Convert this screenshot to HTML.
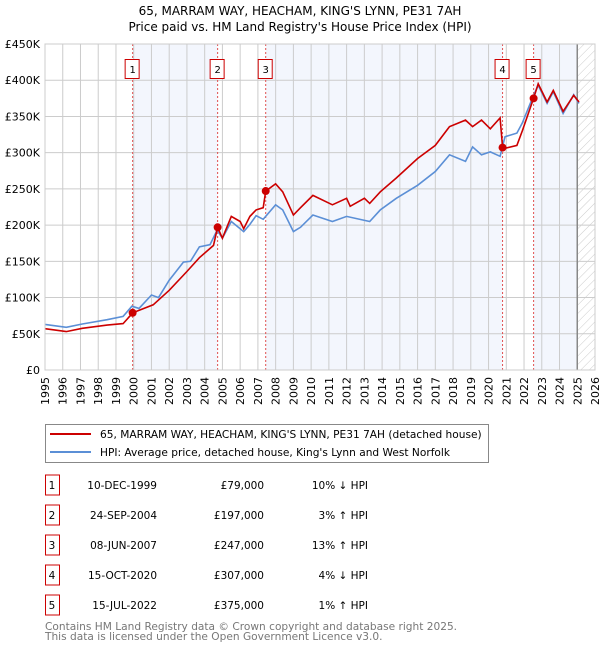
<!DOCTYPE html>
<html><head><meta charset="utf-8"><style>
body{margin:0;background:#fff;font-family:"DejaVu Sans","Liberation Sans",sans-serif;}
svg text{font-family:"DejaVu Sans","Liberation Sans",sans-serif;}
</style></head><body>
<svg id="chart" width="600" height="650" viewBox="0 0 600 650" xmlns="http://www.w3.org/2000/svg">
<defs><pattern id="hatch" patternUnits="userSpaceOnUse" width="6" height="6" patternTransform="rotate(45)"><line x1="0" y1="0" x2="0" y2="6" stroke="#ccc" stroke-width="1"/></pattern></defs>
<text x="300" y="15" text-anchor="middle" font-size="12">65, MARRAM WAY, HEACHAM, KING'S LYNN, PE31 7AH</text>
<text x="300" y="31" text-anchor="middle" font-size="12">Price paid vs. HM Land Registry's House Price Index (HPI)</text>
<g id="plot"></g>
<g>
<rect x="45.5" y="424.5" width="443" height="38" fill="#fff" stroke="#888"/>
<line x1="50" y1="434" x2="91" y2="434" stroke="#cc0000" stroke-width="2"/>
<text x="100" y="438" font-size="10.6">65, MARRAM WAY, HEACHAM, KING'S LYNN, PE31 7AH (detached house)</text>
<line x1="50" y1="452" x2="91" y2="452" stroke="#5b8fd6" stroke-width="2"/>
<text x="100" y="456" font-size="10.6">HPI: Average price, detached house, King's Lynn and West Norfolk</text>
</g>
<g id="table"></g>
<text x="45" y="630" font-size="10.6" fill="#777">Contains HM Land Registry data © Crown copyright and database right 2025.</text>
<text x="45" y="640" font-size="10.6" fill="#777">This data is licensed under the Open Government Licence v3.0.</text>
</svg>
<script>
const hpiYears=[1995,1996.2,1997.1,1998.5,1999.4,1999.9,2000.3,2001,2001.4,2002,2002.8,2003.2,2003.7,2004.3,2004.7,2005,2005.5,2006.2,2006.55,2006.9,2007.3,2008,2008.4,2009,2009.4,2010.1,2011.2,2012,2013.3,2013.9,2014.8,2016,2017,2017.8,2018.7,2019.1,2019.6,2020.1,2020.65,2020.93,2021.6,2021.9,2022.5,2022.8,2023.3,2023.65,2024.2,2024.8,2025.1];
const hpiValues=[63,59,63.5,69.5,74,88,85,103.5,100,124,149,150,170,173,193,182,205,191,201,213,208,228,221,191,197,214,205,212,205,221,237,255,274,297,288,308,297,301,295,322,327,341,377,393,368,384,354,380,368];
const priceYears=[1995,1996.2,1997.1,1998.5,1999.4,1999.95,2001.1,2002,2003,2003.7,2004.5,2004.73,2005,2005.5,2006,2006.2,2006.55,2006.9,2007.3,2007.44,2008,2008.4,2009,2009.4,2010.1,2011.2,2012,2012.2,2013,2013.3,2013.9,2014.8,2016,2017,2017.8,2018.7,2019.1,2019.6,2020.1,2020.65,2020.79,2020.93,2021.6,2021.9,2022.54,2022.8,2023.3,2023.65,2024.2,2024.8,2025.1];
const priceValues=[57,53,57.5,62,64,79,90,110,136,155,172,197,182,212,205,195,212,221,224,247,257,246,214,224,241,228,237,226,237,230,246,265,292,310,336,345,336,345,333,348,307,306,310,330,375,395,370,386,357,379,370];
const saleLabels=["1","2","3","4","5"];
const saleYears=[1999.94,2004.73,2007.44,2020.79,2022.54];
const saleValues=[79,197,247,307,375];
const saleDates=["10-DEC-1999","24-SEP-2004","08-JUN-2007","15-OCT-2020","15-JUL-2022"];
const salePrices=["£79,000","£197,000","£247,000","£307,000","£375,000"];
const saleHpi=["10% ↓ HPI","3% ↑ HPI","13% ↑ HPI","4% ↓ HPI","1% ↑ HPI"];
const yTicks=[0,50,100,150,200,250,300,350,400,450];
const yTickLabels=["£0","£50K","£100K","£150K","£200K","£250K","£300K","£350K","£400K","£450K"];

const NS="http://www.w3.org/2000/svg";
const X0=45,X1=595,Y0=370,Y1=44;
const x=y=>X0+(y-1995)/31*(X1-X0);
const yy=v=>Y0-v/450*(Y0-Y1);
function mk(tag,attrs,parent){const e=document.createElementNS(NS,tag);for(const k in attrs)e.setAttribute(k,attrs[k]);parent.appendChild(e);return e;}
const plot=document.getElementById('plot');
const bg=mk('rect',{x:X0,y:Y1,width:X1-X0,height:Y0-Y1,fill:'#fff'},plot);


const shadeRanges=[[saleYears[0],saleYears[1]],[saleYears[2],saleYears[3]],[saleYears[4],2025.0]];
shadeRanges.forEach(r=>{const s=mk('rect',{x:x(r[0]),y:Y1,width:x(r[1])-x(r[0]),height:Y0-Y1,fill:'#f3f6fd'},plot);

});
const h=mk('rect',{x:x(2025.0),y:Y1,width:X1-x(2025.0),height:Y0-Y1,fill:'url(#hatch)'},plot);


for(let yr=1995;yr<=2026;yr++){
 const g=mk('line',{x1:x(yr),x2:x(yr),y1:Y1,y2:Y0,stroke:'#ccc','stroke-width':1},plot);
 
 
 const t=mk('text',{transform:`translate(${x(yr)+4},377) rotate(-90)`,'text-anchor':'end','font-size':11},plot);
 t.textContent=yr;
 
 
}
yTicks.forEach((v,i)=>{
 const g=mk('line',{x1:X0,x2:X1,y1:yy(v),y2:yy(v),stroke:'#ccc','stroke-width':1},plot);
 
 
 const t=mk('text',{x:40,y:yy(v)+4,'text-anchor':'end','font-size':11},plot);
 t.textContent=yTickLabels[i];
 
 
});
const nl=mk('line',{x1:x(2025.0),x2:x(2025.0),y1:Y1,y2:Y0,stroke:'#888','stroke-width':1.5},plot);


saleYears.forEach((s,i)=>{
 const l=mk('line',{x1:x(s),x2:x(s),y1:Y1,y2:Y0,stroke:'#e05050','stroke-width':1,'stroke-dasharray':'2,2'},plot);
 
 
 const b=mk('rect',{x:x(s)-7.5,y:59.5,width:14,height:19,fill:'#fff',stroke:'#cc0000'},plot);
 
 
 const t=mk('text',{x:x(s),y:73,'text-anchor':'middle','font-size':10},plot);
 t.textContent=saleLabels[i];
 
 
});
function path(xs,vs){return xs.map((a,i)=>(i?'L':'M')+x(a).toFixed(1)+','+yy(vs[i]).toFixed(1)).join('');}
const hp=mk('path',{d:path(hpiYears,hpiValues),fill:'none',stroke:'#5b8fd6','stroke-width':1.6},plot);


const pp=mk('path',{d:path(priceYears,priceValues),fill:'none',stroke:'#cc0000','stroke-width':1.6},plot);


saleYears.forEach((s,i)=>{
 const d=mk('circle',{cx:x(s),cy:yy(saleValues[i]),r:4,fill:'#cc0000'},plot);
 
 
});
const ax=mk('rect',{x:X0,y:Y1,width:X1-X0,height:Y0-Y1,fill:'none',stroke:'#ccc'},plot);


const tb=document.getElementById('table');
saleLabels.forEach((lab,i)=>{
 const cy=485+i*30;
 const b=mk('rect',{x:45.5,y:cy-10,width:14,height:20,fill:'#fff',stroke:'#cc0000'},tb);
 
 
 const cols=[[52,lab,'middle'],[157,saleDates[i],'end'],[264,salePrices[i],'end'],[368,saleHpi[i],'end']];
 cols.forEach(c=>{const t=mk('text',{x:c[0],y:cy+4,'text-anchor':c[2],'font-size':10.5},tb);
 t.textContent=c[1];
 
 });
});
</script>
</body></html>
